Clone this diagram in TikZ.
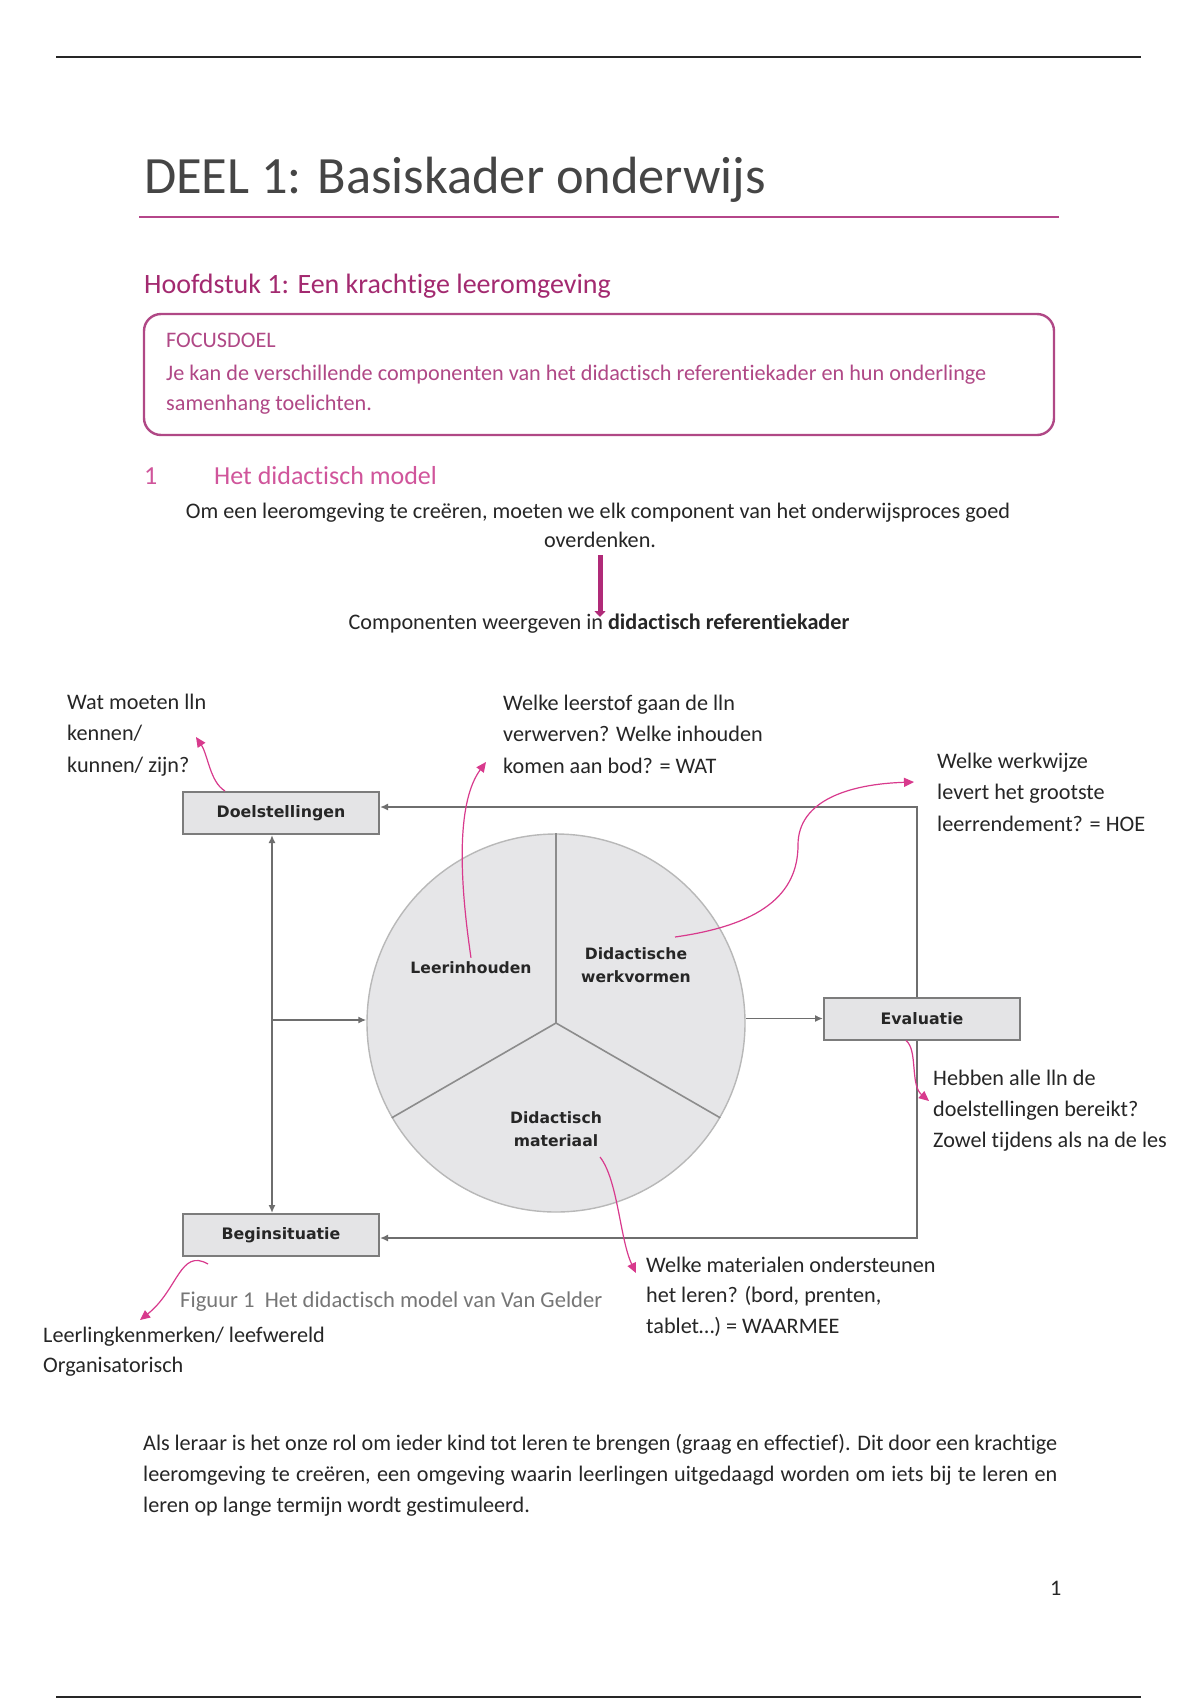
\documentclass[tikz,border=0pt]{standalone}
\usepackage{fontspec}
\setmainfont{Carlito}[Ligatures=NoCommon]
\newfontfamily\lblfont{DejaVu Sans}
\usetikzlibrary{arrows.meta}
\definecolor{titlegray}{HTML}{454545}
\definecolor{pinkrule}{HTML}{B5468A}
\definecolor{headpink}{HTML}{A32A70}
\definecolor{focuspink}{HTML}{B04886}
\definecolor{secpink}{HTML}{D0559B}
\definecolor{arrowpink}{HTML}{B02A78}
\definecolor{notepink}{HTML}{D83A8D}
\definecolor{linegray}{HTML}{6E6E6E}
\definecolor{boxborder}{HTML}{7C7C7C}
\definecolor{boxfill}{HTML}{E4E4E6}
\definecolor{circfill}{HTML}{E6E6E8}
\definecolor{circborder}{HTML}{B8B8B8}
\definecolor{divgray}{HTML}{8C8C8C}
\definecolor{textdark}{HTML}{262626}
\definecolor{capgray}{HTML}{767676}
\newcommand\myfs[1]{\fontsize{#1}{#1}\selectfont}
\newcommand\mlines[2]{\vtop{\baselineskip=#1pt\relax #2}}
\begin{document}
\begin{tikzpicture}[x=1pt,y=-1pt,
  txt/.style={inner sep=0pt, anchor=base west, text=textdark, font=\myfs{22.2}},
  ctxt/.style={inner sep=0pt, anchor=base, text=textdark, font=\myfs{22.2}},
  dbox/.style={draw=boxborder, line width=2pt, fill=boxfill, minimum width=196pt, minimum height=42pt, inner sep=0pt, font=\lblfont\bfseries\myfs{15.8}, text=textdark},
  seglabel/.style={inner sep=0pt, align=center, font=\lblfont\bfseries\fontsize{15.6}{23.5}\selectfont, text=textdark},
  conn/.style={draw=linegray, line width=1.8pt},
  arr/.style={conn, -{Latex[length=8pt,width=7pt]}},
  note/.style={draw=notepink, line width=1.2pt, -{Triangle[length=10pt,width=9pt]}},
]
\useasboundingbox (0,0) rectangle (1200,1700);
\fill[white] (0,0) rectangle (1200,1700);

% page rules
\draw[line width=2.6pt, textdark] (56,57) -- (1141,57);
\draw[line width=2.6pt, textdark] (56,1697) -- (1141,1697);

% title
\node[txt, text=titlegray, font=\myfs{52.4}] (title) at (144,193) {DEEL 1: Basiskader onderwijs};
\draw[line width=2pt, pinkrule] (139,217) -- (1059,217);

\node[txt, text=headpink, font=\myfs{28}] (h2) at (144,293) {Hoofdstuk 1: Een krachtige leeromgeving};

% focus box
\node[draw=focuspink, line width=2.4pt, rounded corners=17pt, minimum width=910pt, minimum height=121pt, inner sep=0pt] (focus) at (599,374.5) {};
\node[txt, text=focuspink] (focuslbl) at (166,347) {FOCUSDOEL};
\node[txt, text=focuspink] (focustxt) at (166,380) {\mlines{30.5}{\hbox{Je kan de verschillende componenten van het didactisch referentiekader en hun onderlinge}\hbox{samenhang toelichten.}}};

% section heading
\node[txt, text=secpink, font=\myfs{26}] (secnum) at (144,484) {1};
\node[txt, text=secpink, font=\myfs{26}] (sectitle) at (214,484) {Het didactisch model};

\node[ctxt] (intro) at (598,518) {Om een leeromgeving te creëren, moeten we elk component van het onderwijsproces goed};
\node[ctxt] (overd) at (600,547) {overdenken.};
\node[ctxt] (comp) at (599,629) {Componenten weergeven in \textbf{didactisch referentiekader}};
\coordinate (arrend) at (600,617);
\draw[line width=5pt, arrowpink, -{Triangle[length=6pt,width=11pt]}] ([yshift=-8pt]overd.south) -- (overd.south |- arrend);

% diagram
\node[circle, draw=circborder, line width=1.4pt, fill=circfill, minimum size=378pt, inner sep=0pt] (circ) at (556,1023) {};
\draw[draw=divgray, line width=1.6pt] (circ.center) -- (circ.90);
\draw[draw=divgray, line width=1.6pt] (circ.center) -- (circ.210);
\draw[draw=divgray, line width=1.6pt] (circ.center) -- (circ.-30);
\node[seglabel] (leer) at (471,968) {Leerinhouden};
\node[seglabel] (werk) at (636,965) {Didactische\\werkvormen};
\node[seglabel] (mat) at (556,1129) {Didactisch\\materiaal};

\node[dbox] (doel) at (281,813) {Doelstellingen};
\node[dbox] (begin) at (281,1235) {Beginsituatie};
\node[dbox] (eval) at (922,1018.5) {Evaluatie};

\coordinate (rx) at (917,0);
\coordinate (vx) at (272,0);
\coordinate (branch) at (272,1020);
\draw[arr] (eval.north -| rx) |- ([yshift=6pt]doel.east);
\draw[arr] (eval.south -| rx) |- ([yshift=-3pt]begin.east);
\draw[conn, {Latex[length=8pt,width=7pt]}-{Latex[length=8pt,width=7pt]}] (doel.south -| vx) -- (begin.north -| vx);
\draw[arr] (branch) -- (branch -| circ.west);
\draw[arr] (circ.east |- eval.west) -- (eval.west);

% annotation texts
\node[txt] (ndoel) at (67,709) {\mlines{31.5}{\hbox{Wat moeten lln}\hbox{kennen/}\hbox{kunnen/ zijn?}}};
\node[txt] (nleer) at (503,710) {\mlines{31.5}{\hbox{Welke leerstof gaan de lln}\hbox{verwerven? Welke inhouden}\hbox{komen aan bod? = WAT}}};
\node[txt] (nwerk) at (937,768) {\mlines{31.5}{\hbox{Welke werkwijze}\hbox{levert het grootste}\hbox{leerrendement? = HOE}}};
\node[txt] (neval) at (933,1085) {\mlines{31}{\hbox{Hebben alle lln de}\hbox{doelstellingen bereikt?}\hbox{Zowel tijdens als na de les}}};
\node[txt] (nmat) at (646,1272) {\mlines{30.5}{\hbox{Welke materialen ondersteunen}\hbox{het leren? (bord, prenten,}\hbox{tablet…) = WAARMEE}}};
\node[txt] (nbegin) at (43,1342) {\mlines{30.5}{\hbox{Leerlingkenmerken/ leefwereld}\hbox{Organisatorisch}}};
\node[txt, text=capgray, font=\myfs{22.6}] (caption) at (180,1307) {Figuur 1\ \ Het didactisch model van Van Gelder};

% annotation arrows
\coordinate (tdoel) at (196,737);
\coordinate (tleer) at (486,762);
\coordinate (twerk) at (914,782);
\coordinate (teval) at (929,1101);
\coordinate (tmat) at (636,1273);
\coordinate (tbegin) at (140,1320);
\draw[note] ([xshift=43pt]doel.north west) .. controls (210,782) and (208,755) .. (tdoel);
\draw[note] ([yshift=4pt]leer.north) .. controls (458,870) and (458,800) .. (tleer);
\draw[note] (675,937) .. controls (760,925) and (798,895) .. (798,845) .. controls (798,800) and (850,784) .. (twerk);
\draw[note] ([xshift=-16pt]eval.south) .. controls (918,1050) and (910,1085) .. (teval);
\draw[note] ([xshift=44pt,yshift=-10pt]mat.south) .. controls (618,1180) and (620,1240) .. (tmat);
\draw[note] ([xshift=26pt,yshift=-7pt]begin.south west) .. controls (180,1248) and (178,1290) .. (tbegin);

% closing paragraph
\node[txt] (para) at (143,1450) {\mlines{31}{\hbox to 914pt{Als leraar is het onze rol om ieder kind tot leren te brengen (graag en effectief). Dit door een krachtige}\hbox to 914pt{leeromgeving te creëren, een omgeving waarin leerlingen uitgedaagd worden om iets bij te leren en}\hbox{leren op lange termijn wordt gestimuleerd.}}};
\node[txt] (pagenum) at (1050,1595) {1};
\end{tikzpicture}
\end{document}
